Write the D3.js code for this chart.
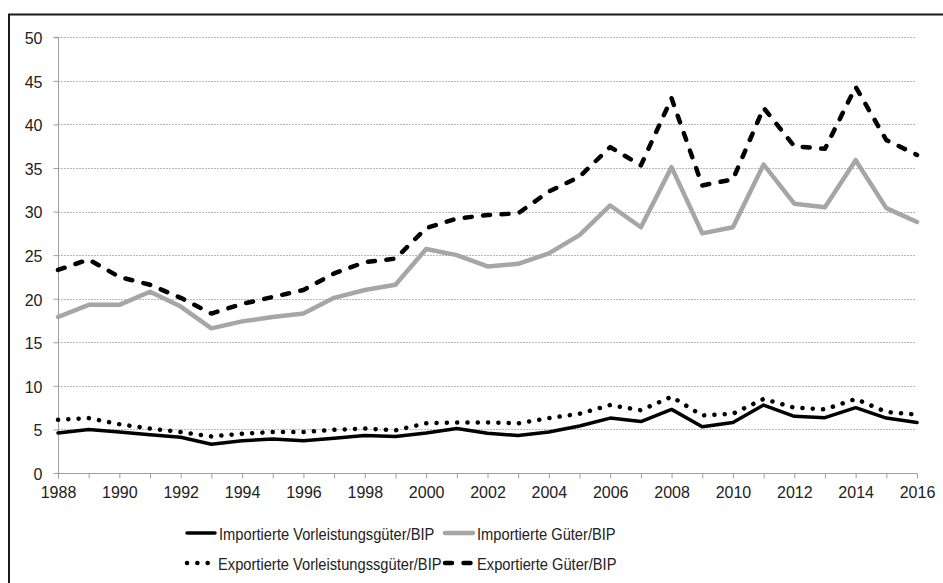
<!DOCTYPE html>
<html>
<head>
<meta charset="utf-8">
<script src="https://cdn.jsdelivr.net/npm/d3@7"></script>
<style>
  html, body { margin: 0; padding: 0; background: #fff; }
  svg { display: block; }
</style>
</head>
<body>
<svg id="chart" width="943" height="583"></svg>
<script>
const years = [1988,1989,1990,1991,1992,1993,1994,1995,1996,1997,1998,1999,2000,2001,2002,2003,2004,2005,2006,2007,2008,2009,2010,2011,2012,2013,2014,2015,2016];
const impVorleistung = [4.6,5.0,4.7,4.4,4.1,3.3,3.7,3.9,3.7,4.0,4.3,4.2,4.6,5.1,4.55,4.3,4.7,5.4,6.3,5.9,7.3,5.3,5.8,7.8,6.5,6.35,7.5,6.3,5.8];
const impGueter = [17.9,19.3,19.3,20.8,19.1,16.6,17.4,17.9,18.3,20.1,21.0,21.6,25.7,25.0,23.7,24.0,25.2,27.3,30.7,28.2,35.1,27.5,28.2,35.4,30.9,30.5,35.9,30.4,28.8];
const expVorleistung = [6.1,6.3,5.6,5.1,4.7,4.2,4.5,4.7,4.7,4.95,5.1,4.9,5.7,5.8,5.8,5.7,6.3,6.8,7.8,7.2,8.75,6.6,6.8,8.5,7.5,7.3,8.5,7.0,6.7];
const expGueter = [23.3,24.5,22.5,21.6,20.1,18.3,19.4,20.2,21.0,22.9,24.2,24.6,28.1,29.2,29.6,29.8,32.3,34.0,37.4,35.3,43.0,33.0,33.7,41.9,37.5,37.2,44.3,38.2,36.5];
const yTicks = [0,5,10,15,20,25,30,35,40,45,50];
const xLabelYears = [1988,1990,1992,1994,1996,1998,2000,2002,2004,2006,2008,2010,2012,2014,2016];
const seriesNames = ["Importierte Vorleistungsgüter/BIP","Importierte Güter/BIP","Exportierte Vorleistungssgüter/BIP","Exportierte Güter/BIP"];

const styles = [
  {stroke:"#000", width:3.5, dash:null, cap:"round"},
  {stroke:"#a6a6a6", width:4.5, dash:null, cap:"round"},
  {stroke:"#000", width:4.5, dash:"0.1 10.2", cap:"round"},
  {stroke:"#000", width:4.5, dash:"7 11.5", cap:"round"}
];
const seriesData = [impVorleistung, impGueter, expVorleistung, expGueter];

const svg = d3.select("#chart");
const tickFont = "'Liberation Sans', Arial, sans-serif";
const legendFont = "'Liberation Sans', Arial, sans-serif";

// outer border
svg.append("rect").attr("x",9).attr("y",14.5).attr("width",960).attr("height",600)
  .attr("fill","none").attr("stroke","#1a1a1a").attr("stroke-width",2);

const x = d3.scaleLinear().domain([1988,2016]).range([58,917]);
const y = d3.scaleLinear().domain([0,50]).range([473,37.3]);

// gridlines
svg.append("g").selectAll("line").data(yTicks.filter(d=>d>0)).join("line")
  .attr("x1",58).attr("x2",916).attr("y1",d=>Math.round(y(d))+0.5).attr("y2",d=>Math.round(y(d))+0.5)
  .attr("stroke","#b8b8b8").attr("stroke-width",1).attr("stroke-dasharray","2 1");

// y axis
const yAxis = d3.axisLeft(y).tickValues(yTicks).tickSize(5).tickPadding(11).tickFormat(d3.format("d"));
const gy = svg.append("g").attr("transform","translate(58.5,0)").call(yAxis);
gy.select(".domain").attr("stroke","#a0a0a0").attr("d","M-5,"+y(50)+"H0V"+y(0));
gy.selectAll(".tick line").attr("stroke","#a0a0a0");
gy.selectAll(".tick text").attr("font-family",tickFont).attr("font-size",16).attr("fill","#222").attr("dy","0.4em");

// x axis
const xAxis = d3.axisBottom(x).tickValues(years).tickSize(5).tickPadding(8)
  .tickFormat(d => xLabelYears.includes(d) ? String(d) : "");
const gx = svg.append("g").attr("transform","translate(0,473.5)").call(xAxis);
gx.select(".domain").attr("stroke","#a0a0a0").attr("d","M"+x(1988)+",0H"+x(2016));
gx.selectAll(".tick line").attr("stroke","#a0a0a0");
gx.selectAll(".tick text").attr("font-family",tickFont).attr("font-size",16).attr("fill","#222");

// lines
const line = d3.line().x((d,i)=>x(years[i])).y(d=>y(d));
seriesData.forEach((s,k)=>{
  const st = styles[k];
  svg.append("path").datum(s).attr("d",line)
    .attr("fill","none").attr("stroke",st.stroke).attr("stroke-width",st.width)
    .attr("stroke-linejoin","round").attr("stroke-linecap",st.cap)
    .attr("stroke-dasharray",st.dash);
});

// legend
const legendPos = [
  {lx:185, tx:219, ly:533, ty:540},
  {lx:443, tx:477, ly:533, ty:540},
  {lx:185, tx:218, ly:563, ty:570},
  {lx:443, tx:477, ly:563, ty:570}
];
const lg = svg.append("g");
seriesNames.forEach((name,k)=>{
  const p = legendPos[k], st = styles[k];
  lg.append("line").attr("x1",p.lx+2).attr("x2",p.lx+30).attr("y1",p.ly).attr("y2",p.ly)
    .attr("stroke",st.stroke).attr("stroke-width",st.width).attr("stroke-linecap",st.cap)
    .attr("stroke-dasharray",st.dash);
  lg.append("text").attr("transform","translate("+p.tx+","+p.ty+") scale(0.89,1)").text(name)
    .attr("font-family",legendFont).attr("font-size",16.5).attr("fill","#222");
});
</script>
</body>
</html>
